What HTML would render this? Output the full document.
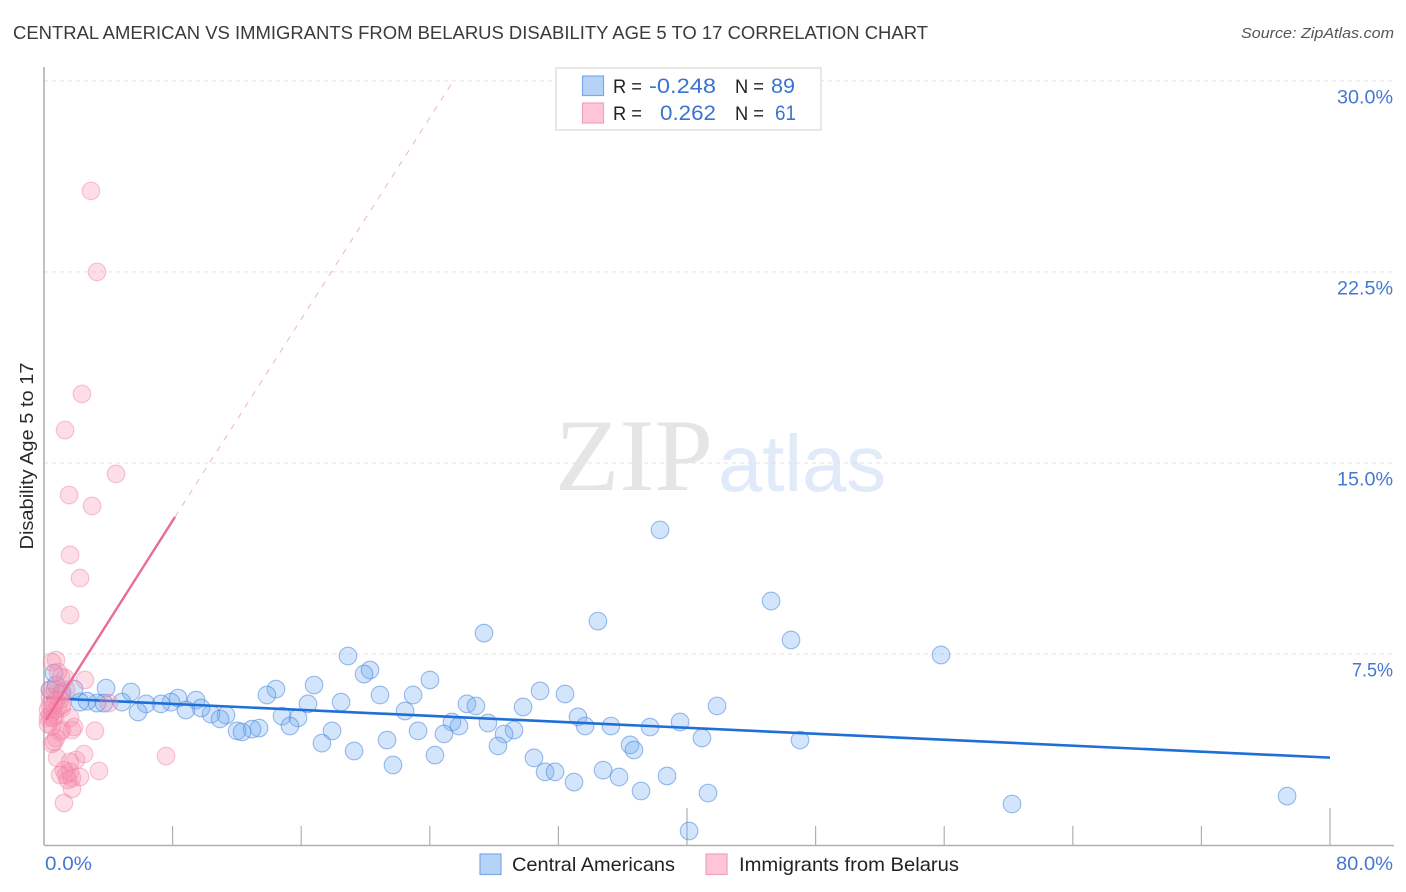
<!DOCTYPE html>
<html>
<head>
<meta charset="utf-8">
<title>Central American vs Immigrants from Belarus Disability Age 5 to 17 Correlation Chart</title>
<style>
html,body{margin:0;padding:0;background:#fff;}
body{width:1406px;height:892px;overflow:hidden;font-family:"Liberation Sans",sans-serif;}
svg{display:block;}
text{font-family:"Liberation Sans",sans-serif;}
</style>
</head>
<body>
<svg id="chart" width="1406" height="892" viewBox="0 0 1406 892" xmlns="http://www.w3.org/2000/svg">
  <text x="13" y="39" font-size="18.5" fill="#3a3a3a" textLength="915" lengthAdjust="spacingAndGlyphs">CENTRAL AMERICAN VS IMMIGRANTS FROM BELARUS DISABILITY AGE 5 TO 17 CORRELATION CHART</text>
  <text x="1394" y="38" font-size="15" font-style="italic" fill="#555" text-anchor="end" textLength="153" lengthAdjust="spacingAndGlyphs">Source: ZipAtlas.com</text>
  <g id="watermark">
    <text x="555" y="490" font-size="103" fill="#e5e5e5" style="font-family:'Liberation Serif',serif" textLength="158" lengthAdjust="spacingAndGlyphs">ZIP</text>
    <text x="718" y="491" font-size="80" fill="#e0eaf8" textLength="168" lengthAdjust="spacingAndGlyphs">atlas</text>
  </g>
  <g id="grid"></g>
  <g id="axes"></g>
  <g id="blue-points"></g>
  <g id="blue-line"></g>
  <g id="pink-points"></g>
  <g id="pink-line"></g>
  <text x="0" y="0" font-size="18" fill="#2a2a2a" text-anchor="middle" transform="translate(33,456) rotate(-90)" textLength="187" lengthAdjust="spacingAndGlyphs">Disability Age 5 to 17</text>
  <g>
    <rect x="556" y="68" width="265" height="62" fill="#fff" stroke="#e0e0e0" stroke-width="1.5"/>
    <rect x="582.5" y="76" width="21" height="19.5" fill="#b5d3f7" stroke="#7caae6" stroke-width="1.2"/>
    <rect x="582.5" y="103" width="21" height="20" fill="#fdc5d7" stroke="#f0a3bb" stroke-width="1.2"/>
    <text x="613" y="93" font-size="19" fill="#222" textLength="29" lengthAdjust="spacingAndGlyphs">R =</text>
    <text x="716" y="93" font-size="21" fill="#3b73d1" text-anchor="end" textLength="67" lengthAdjust="spacingAndGlyphs">-0.248</text>
    <text x="735" y="93" font-size="19" fill="#222" textLength="29" lengthAdjust="spacingAndGlyphs">N =</text>
    <text x="795" y="93" font-size="21" fill="#3b73d1" text-anchor="end" textLength="24" lengthAdjust="spacingAndGlyphs">89</text>
    <text x="613" y="120" font-size="19" fill="#222" textLength="29" lengthAdjust="spacingAndGlyphs">R =</text>
    <text x="716" y="120" font-size="21" fill="#3b73d1" text-anchor="end" textLength="56" lengthAdjust="spacingAndGlyphs">0.262</text>
    <text x="735" y="120" font-size="19" fill="#222" textLength="29" lengthAdjust="spacingAndGlyphs">N =</text>
    <text x="796" y="120" font-size="21" fill="#3b73d1" text-anchor="end" textLength="21" lengthAdjust="spacingAndGlyphs">61</text>
  </g>
  <g>
    <rect x="480" y="854" width="21" height="20.5" fill="#b5d3f7" stroke="#7caae6" stroke-width="1.2"/>
    <text x="512" y="871" font-size="19.5" fill="#222" textLength="163" lengthAdjust="spacingAndGlyphs">Central Americans</text>
    <rect x="706" y="854" width="21" height="20.5" fill="#fdc5d7" stroke="#f0a3bb" stroke-width="1.2"/>
    <text x="739" y="871" font-size="19.5" fill="#222" textLength="220" lengthAdjust="spacingAndGlyphs">Immigrants from Belarus</text>
  </g>
</svg>
<script>
var xTickValues = [8,16,24,32,40,48,56,64,72,80];
var xTallTicks = [40,80];
var yTickValues = [7.5,15,22.5,30];
var yTickLabels = ["7.5%","15.0%","22.5%","30.0%"];
var xEndLabels = ["0.0%","80.0%"];

var blueX = [38.32,45.23,34.46,27.37,46.47,55.80,18.91,20.28,19.91,24.01,16.80,14.43,13.87,30.86,32.41,22.96,20.90,5.41,3.86,0.62,18.48,16.42,9.46,8.34,26.31,26.87,29.80,41.87,22.46,14.81,15.80,11.32,10.39,9.77,8.83,7.90,7.28,6.35,5.85,4.85,3.73,3.30,2.68,2.24,33.22,39.57,37.70,35.27,33.66,27.62,25.38,25.82,23.27,29.24,28.62,24.88,17.92,15.30,13.38,12.94,12.01,12.32,10.95,40.93,47.03,36.46,36.70,28.24,21.34,17.29,19.29,24.32,30.48,21.71,34.78,31.17,31.79,35.77,38.76,32.97,37.14,41.31,60.22,77.33,40.13,0.37,0.75,1.12,1.87];
var blueY = [12.37,9.58,8.79,8.32,8.05,7.46,7.42,6.87,6.71,6.48,6.28,6.12,5.89,6.05,5.93,5.89,5.89,6.01,6.16,6.75,5.61,5.54,5.69,5.77,5.54,5.46,5.42,5.46,5.26,5.06,4.99,5.10,5.14,5.38,5.30,5.61,5.54,5.54,5.22,5.61,5.57,5.57,5.65,5.61,5.03,4.83,4.63,4.67,4.67,4.79,4.83,4.67,4.48,4.51,4.36,4.36,4.48,4.67,4.59,4.55,4.48,4.44,4.95,4.20,4.12,3.93,3.73,3.89,4.12,4.00,3.69,3.53,3.42,3.14,2.94,2.87,2.87,2.67,2.71,2.47,2.12,2.04,1.61,1.92,0.55,6.09,6.28,6.01,6.12];

var pinkX = [2.92,3.30,2.36,1.31,4.48,1.56,2.99,1.62,2.24,1.62,0.75,0.50,2.55,1.06,1.31,0.87,1.37,1.06,0.68,4.04,0.37,0.37,0.25,0.56,0.87,1.12,0.37,0.68,0.25,0.56,1.62,1.87,1.74,1.00,1.12,3.17,0.75,0.62,0.50,2.49,7.59,0.81,1.99,1.62,3.42,1.24,1.62,1.00,1.37,1.74,2.24,1.49,1.74,1.24,0.75,1.00,1.12,0.25,0.50,0.37,0.62];
var pinkY = [25.68,22.50,17.71,16.29,14.57,13.74,13.31,11.39,10.48,9.03,7.26,7.18,6.48,6.60,6.56,6.79,6.09,5.89,6.09,5.57,6.09,5.81,5.30,5.22,5.38,5.38,5.06,5.06,4.99,4.99,4.99,4.63,4.51,4.44,4.51,4.48,4.20,4.04,3.97,3.57,3.49,3.42,3.34,3.26,2.91,2.94,2.87,2.75,2.75,2.63,2.67,2.55,2.20,1.65,5.69,5.69,5.50,4.75,4.67,5.50,5.50];

var blueTrendX = [0.12,80];
var blueTrendY = [5.77,3.43];
var pinkSolidX = [0.12,8.15];
var pinkSolidY = [4.91,12.88];
var pinkDashX = [8.15,25.38];
var pinkDashY = [12.88,29.92];

var SVGNS = "http://www.w3.org/2000/svg";
function sx(v){ return 44 + v * 16.075; }
function sy(v){ return 845 - v * 25.47; }
function make(parent, tag, attrs){
  var el = document.createElementNS(SVGNS, tag);
  for (var k in attrs) el.setAttribute(k, attrs[k]);
  document.getElementById(parent).appendChild(el);
  return el;
}

yTickValues.forEach(function(v, i){
  var line = make("grid", "line", {x1:44, x2:1394, y1:sy(v), y2:sy(v), stroke:"#e2e2e2", "stroke-width":1, "stroke-dasharray":"4 4"});
  
  
  var label = make("axes", "text", {x:1393, y:sy(v)+22.5, "font-size":19, fill:"#4478d4", "text-anchor":"end", textLength:(yTickLabels[i].length===4?41:56), lengthAdjust:"spacingAndGlyphs"});
  label.textContent = yTickLabels[i];
  
  
});

var yAxis = make("axes", "line", {x1:44, x2:44, y1:67, y2:845, stroke:"#b0b0b0", "stroke-width":1.6});


var xAxis = make("axes", "line", {x1:44, x2:1394, y1:845.5, y2:845.5, stroke:"#b0b0b0", "stroke-width":1.4});



xTickValues.forEach(function(v){
  var tall = xTallTicks.indexOf(v) >= 0;
  var tick = make("axes", "line", {x1:sx(v), x2:sx(v), y1:tall?808:826, y2:845, stroke:"#b0b0b0", "stroke-width":1.2});
  
  
});

var xStart = make("axes", "text", {x:45, y:870, "font-size":19, fill:"#4478d4", textLength:47, lengthAdjust:"spacingAndGlyphs"});
xStart.textContent = xEndLabels[0];


var xEnd = make("axes", "text", {x:1393, y:870, "font-size":19, fill:"#4478d4", "text-anchor":"end", textLength:57, lengthAdjust:"spacingAndGlyphs"});
xEnd.textContent = xEndLabels[1];



blueX.forEach(function(v, i){
  var c = make("blue-points", "circle", {cx:sx(v), cy:sy(blueY[i]), r:8.8, fill:"#6ea8ee", "fill-opacity":0.3, stroke:"#4a86dc", "stroke-opacity":0.55, "stroke-width":1.1});
  
  
});

var bl = make("blue-line", "line", {x1:sx(blueTrendX[0]), y1:sy(blueTrendY[0]), x2:sx(blueTrendX[1]), y2:sy(blueTrendY[1]), stroke:"#1f6fd6", "stroke-width":2.6});



pinkX.forEach(function(v, i){
  var c = make("pink-points", "circle", {cx:sx(v), cy:sy(pinkY[i]), r:8.8, fill:"#f78dad", "fill-opacity":0.3, stroke:"#ee7fa3", "stroke-opacity":0.45, "stroke-width":1.1});
  
  
});

var ps = make("pink-line", "line", {x1:sx(pinkSolidX[0]), y1:sy(pinkSolidY[0]), x2:sx(pinkSolidX[1]), y2:sy(pinkSolidY[1]), stroke:"#ea6c98", "stroke-width":2.4});


var pd = make("pink-line", "line", {x1:sx(pinkDashX[0]), y1:sy(pinkDashY[0]), x2:sx(pinkDashX[1]), y2:sy(pinkDashY[1]), stroke:"#efb3c8", "stroke-width":1, "stroke-dasharray":"6 7"});


</script>
</body>
</html>
